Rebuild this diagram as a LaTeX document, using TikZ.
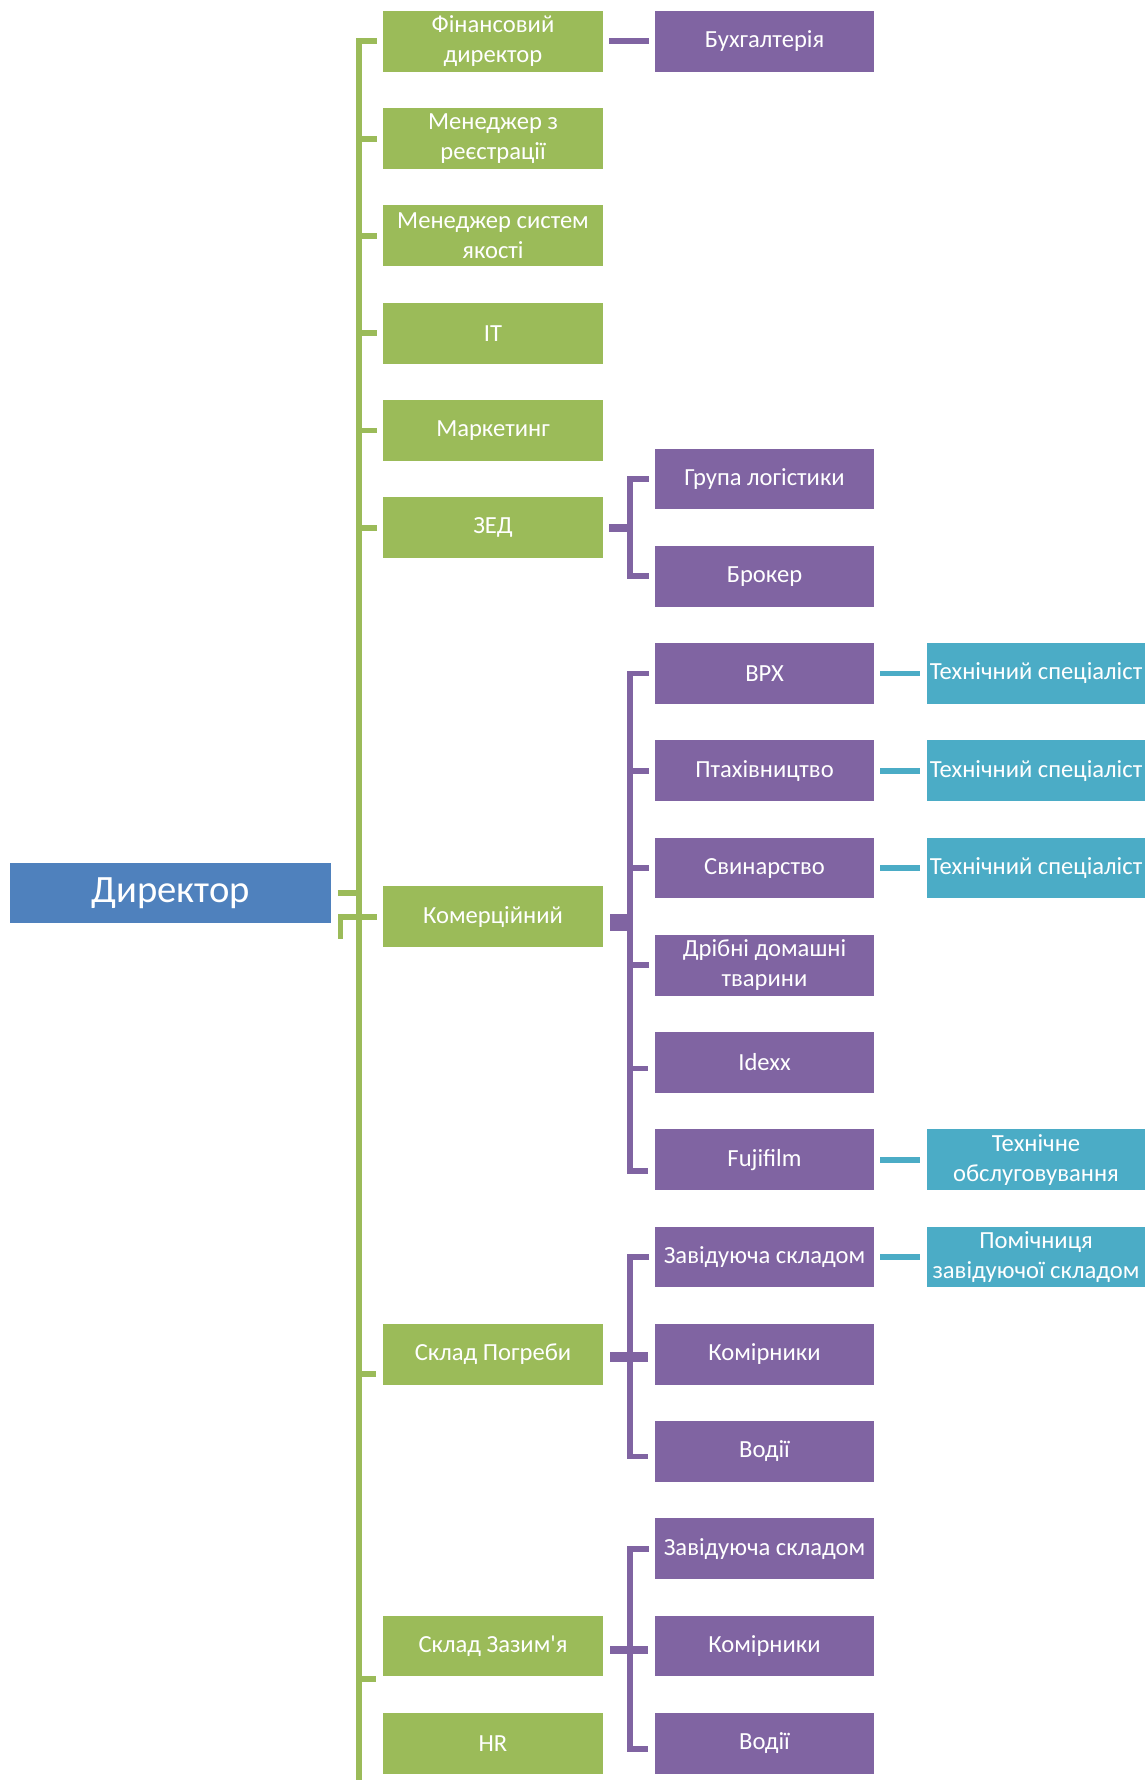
\documentclass[tikz,border=0pt]{standalone}
\usepackage{fontspec}
\setmainfont{Carlito}[Ligatures=TeXOff]
\usetikzlibrary{calc}
\definecolor{levelgreen}{HTML}{9BBB59}
\definecolor{levelpurple}{HTML}{8064A2}
\definecolor{levelteal}{HTML}{4BACC6}
\definecolor{headblue}{HTML}{4F81BD}

\begin{document}
\begin{tikzpicture}[x=0.02cm, y=-0.02cm,
  orgbox/.style={rectangle, draw=white, line width=0.6pt, text=white, align=center, inner sep=2pt, minimum height=1.24cm, font=\fontsize{14}{17}\selectfont},
  greenbox/.style={orgbox, fill=levelgreen, minimum width=4.42cm},
  purplebox/.style={orgbox, fill=levelpurple, minimum width=4.39cm},
  tealbox/.style={orgbox, fill=levelteal, minimum width=4.4cm},
  gline/.style={levelgreen, line width=3.3pt},
  pline/.style={levelpurple, line width=3.3pt},
  tline/.style={levelteal, line width=3.3pt}]
  \useasboundingbox (0,0) rectangle (1146,1780);

  % Director
  \node[orgbox, fill=headblue, minimum width=6.46cm, font=\fontsize{22}{26}\selectfont] (dir) at (170.5,893) {Директор};

  % First level
  \node[greenbox] (fin) at (493,41.4) {Фінансовий\\директор};
  \node[greenbox] (reg) at (493,138.7) {Менеджер з\\реєстрації};
  \node[greenbox] (qms) at (493,235.9) {Менеджер систем\\якості};
  \node[greenbox] (it) at (493,333.2) {IT};
  \node[greenbox] (mkt) at (493,430.4) {Маркетинг};
  \node[greenbox] (zed) at (493,527.7) {ЗЕД};
  \node[greenbox] (kom) at (493,916.7) {Комерційний};
  \node[greenbox] (pogr) at (493,1354.3) {Склад Погреби};
  \node[greenbox] (zazim) at (493,1646) {Склад Зазим'я};
  \node[greenbox] (hr) at (493,1743.3) {HR};

  % Second level
  \node[purplebox] (buh) at (764.5,41.4) {Бухгалтерія};
  \node[purplebox] (logist) at (764.5,479) {Група логістики};
  \node[purplebox] (broker) at (764.5,576.3) {Брокер};
  \node[purplebox] (vrh) at (764.5,673.5) {ВРХ};
  \node[purplebox] (ptah) at (764.5,770.8) {Птахівництво};
  \node[purplebox] (svyn) at (764.5,868) {Свинарство};
  \node[purplebox] (dribni) at (764.5,965.3) {Дрібні домашні\\тварини};
  \node[purplebox] (idexx) at (764.5,1062.5) {Idexx};
  \node[purplebox] (fuji) at (764.5,1159.8) {Fujifilm};
  \node[purplebox] (zavpogr) at (764.5,1257) {Завідуюча складом};
  \node[purplebox] (kompogr) at (764.5,1354.3) {Комірники};
  \node[purplebox] (vodpogr) at (764.5,1451.5) {Водії};
  \node[purplebox] (zavzaz) at (764.5,1548.8) {Завідуюча складом};
  \node[purplebox] (komzaz) at (764.5,1646) {Комірники};
  \node[purplebox] (vodzaz) at (764.5,1743.3) {Водії};

  % Third level
  \node[tealbox] (techvrh) at (1036,673.5) {Технічний спеціаліст};
  \node[tealbox] (techptah) at (1036,770.8) {Технічний спеціаліст};
  \node[tealbox] (techsvyn) at (1036,868) {Технічний спеціаліст};
  \node[tealbox] (techfuji) at (1036,1159.8) {Технічне\\обслуговування};
  \node[tealbox] (pomich) at (1036,1257) {Помічниця\\завідуючої складом};

  % Green spine
  \coordinate (spine) at (359,0);
  \coordinate (spineend) at (359,1790);
  \draw[gline] ([xshift=-3pt]fin.west) -| (spineend);
  \foreach \n in {reg,qms,it,mkt,zed,kom}
    \draw[gline] (spine |- \n.west) -- ([xshift=-3pt]\n.west);
  \coordinate (pogrtick) at ($(pogr.west)+(-6,20)$);
  \coordinate (zazimtick) at ($(zazim.west)+(-6,33)$);
  \draw[gline] (spine |- pogrtick) -- (pogrtick);
  \draw[gline] (spine |- zazimtick) -- (zazimtick);

  % Director to spine
  \coordinate (dirhook) at ($(dir.south east)+(8,14)$);
  \draw[gline] ([xshift=3pt]dir.east) -- (spine |- dir.east);
  \draw[gline] (spine |- kom.west) -| (dirhook);

  % Purple brackets
  \coordinate (bus) at (630,0);
  \draw[pline] ([xshift=3pt]fin.east) -- ([xshift=-3pt]buh.west);

  \draw[levelpurple, line width=4.5pt] ([xshift=3pt]zed.east) -- ($(bus |- zed.east)+(3,0)$);
  \draw[pline] ([xshift=-3pt]logist.west) -| (bus |- broker.west) -- ([xshift=-3pt]broker.west);

  \coordinate (komstub) at ($(kom.east)+(6,5.5)$);
  \draw[levelpurple, line width=9.6pt] (komstub) -- ($(bus |- komstub)+(3,0)$);
  \coordinate (fujitick) at ($(fuji.west)+(-6,11)$);
  \coordinate (idexxtick) at ($(idexx.west)+(-6,6)$);
  \draw[pline] ([xshift=-3pt]vrh.west) -| (bus |- fujitick) -- (fujitick);
  \foreach \n in {ptah,svyn,dribni}
    \draw[pline] (bus |- \n.west) -- ([xshift=-3pt]\n.west);
  \draw[pline] (bus |- idexxtick) -- (idexxtick);

  \coordinate (pogrstub) at ($(pogr.east)+(6,3)$);
  \coordinate (vodpogrtick) at ($(vodpogr.west)+(-6,5)$);
  \draw[levelpurple, line width=5.7pt] (pogrstub) -- ($(kompogr.west |- pogrstub)+(-6,0)$);
  \draw[pline] ([xshift=-3pt]zavpogr.west) -| (bus |- vodpogrtick) -- (vodpogrtick);

  \coordinate (zazimstub) at ($(zazim.east)+(6,4)$);
  \coordinate (vodzaztick) at ($(vodzaz.west)+(-6,6)$);
  \draw[levelpurple, line width=5pt] (zazimstub) -- ($(komzaz.west |- zazimstub)+(-6,0)$);
  \draw[pline] ([xshift=-3pt]zavzaz.west) -| (bus |- vodzaztick) -- (vodzaztick);

  % Teal links
  \foreach \a/\b in {vrh/techvrh, ptah/techptah, svyn/techsvyn, fuji/techfuji, zavpogr/pomich}
    \draw[tline] ([xshift=3pt]\a.east) -- ([xshift=-3pt]\b.west);
\end{tikzpicture}
\end{document}
